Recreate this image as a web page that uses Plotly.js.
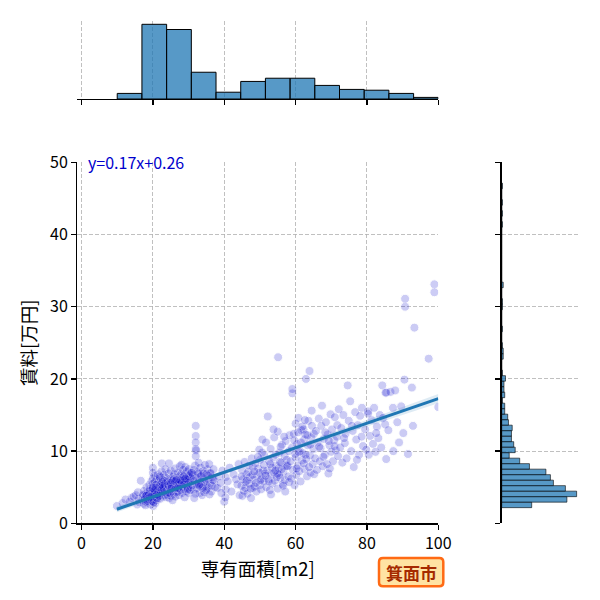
<!DOCTYPE html>
<html>
<head>
<meta charset="utf-8">
<script src="https://cdn.plot.ly/plotly-3.0.1.min.js"></script>
<style>html,body{margin:0;padding:0;background:#fff;}#chart{width:600px;height:600px;}</style>
</head>
<body>
<div id="chart"></div>
<script>
// ---- scatter data: 専有面積[m2] (area) and 賃料[万円] (rent) ----
const area = [
  9.9,11.5,12.3,13.5,14.0,14.6,15.2,15.6,16.0,16.2,16.6,15.8,
  17.0,17.2,17.4,17.5,17.8,18.0,18.0,18.2,18.4,18.5,
  18.6,18.8,19.0,19.0,19.2,19.3,19.5,19.6,19.8,19.8,
  20.0,20.0,20.0,20.0,20.0,20.0,20.0,20.0,20.1,20.1,
  20.2,20.3,20.4,20.5,20.5,20.6,20.7,20.8,20.9,21.0,
  21.0,21.0,21.1,21.2,21.3,21.4,21.5,21.5,21.6,21.7,
  21.8,21.9,22.0,22.0,22.0,22.1,22.2,22.3,22.4,22.5,
  22.5,22.6,22.7,22.8,22.9,23.0,23.0,23.1,23.2,23.3,
  23.4,23.5,23.6,23.7,23.5,23.2,22.9,22.4,21.9,21.4,
  20.9,20.4,19.9,19.4,18.9,18.3,17.7,17.3,19.1,19.7,
  20.6,21.3,22.1,22.8,23.6,17.9,18.7,20.3,21.6,22.6,
  19.6,20.8,21.8,23.3,18.1,20.1,22.2,23.0,21.1,19.2,
  20.5,21.7,22.5,23.8,18.6,19.9,20.2,21.2,22.7,23.4,
  24.0,24.1,24.2,24.3,24.4,24.5,24.5,24.6,24.8,24.9,
  25.0,25.0,25.0,25.1,25.2,25.3,25.4,25.5,25.6,25.7,
  25.8,25.9,26.0,26.0,26.1,26.2,26.3,26.4,26.5,26.6,
  26.7,26.8,26.9,27.0,27.0,27.1,27.2,27.3,27.4,27.5,
  27.6,27.7,27.8,27.9,28.0,28.0,28.1,28.2,28.3,28.4,
  28.5,28.6,28.7,28.8,28.9,29.0,29.0,29.1,29.2,29.3,
  29.4,29.5,29.6,29.7,29.8,29.9,30.0,30.0,30.1,30.2,
  30.3,30.4,30.5,30.6,30.7,24.3,25.3,26.4,27.4,28.4,
  29.4,30.2,24.7,25.8,26.8,27.8,28.8,29.8,25.5,27.1,
  26.2,28.1,29.6,24.9,27.6,30.5,26.6,28.6,25.1,29.1,
  31.0,31.2,31.4,31.5,31.7,31.8,32.0,32.0,32.0,32.0,
  32.1,32.0,32.2,32.4,32.5,32.6,32.8,33.0,33.1,33.3,
  33.5,33.6,33.8,34.0,34.1,34.3,34.4,34.6,34.8,35.0,
  35.1,35.3,35.4,35.6,35.8,36.0,36.2,36.4,36.7,37.0,
  37.2,37.5,31.3,32.3,33.4,34.5,35.5,36.5,31.9,33.9,
  30.9,32.7,34.9,36.1,31.6,33.2,34.2,35.9,32.9,36.9,
  38.1,38.5,39.0,39.5,40.0,40.4,40.4,40.3,41.0,41.5,
  42.0,42.6,43.3,43.7,44.0,44.3,39.2,
  44.8,45.0,45.1,45.3,45.5,45.7,46.0,46.2,46.5,46.7,
  47.0,47.2,47.5,47.7,48.0,48.0,48.2,48.5,48.7,49.0,
  49.2,49.5,49.8,50.0,50.0,50.3,50.5,50.7,50.9,51.0,
  51.2,51.4,51.7,45.9,46.9,47.9,48.9,49.9,50.6,44.9,
  46.3,47.4,48.4,49.4,50.2,51.1,
  51.8,52.0,52.2,52.4,52.6,52.8,53.0,53.2,53.5,53.7,
  54.0,54.0,54.2,54.5,54.7,55.0,55.0,55.1,55.3,55.5,
  55.7,56.0,56.2,56.4,56.6,56.9,57.0,57.2,57.4,57.6,
  57.8,58.0,58.1,58.3,52.5,53.4,54.4,55.4,56.5,57.5,
  52.9,54.9,56.1,58.2,53.8,55.8,57.1,51.6,56.8,54.3,
  53.1,55.6,
  58.6,58.8,59.0,59.1,59.1,59.3,59.5,59.7,60.0,60.0,
  60.2,60.4,60.6,60.8,61.0,61.2,61.4,61.6,61.8,62.0,
  62.2,62.4,62.5,62.7,62.9,63.0,63.2,63.4,63.6,63.9,
  64.0,64.2,64.4,64.6,64.8,65.0,65.2,59.6,60.9,62.3,
  63.3,64.5,65.1,61.5,60.3,62.8,63.8,59.9,61.9,64.1,
  60.7,62.6,
  65.5,65.7,66.0,66.2,66.5,66.8,67.0,67.2,67.4,67.6,
  67.9,68.2,68.5,68.8,69.0,69.2,69.5,69.8,70.0,70.2,
  70.5,70.8,71.0,71.3,71.6,71.9,72.1,66.6,68.3,69.6,
  70.9,71.7,67.8,69.3,
  72.5,72.8,73.1,73.4,73.8,74.0,74.3,74.6,74.9,75.3,
  75.6,76.0,76.3,76.7,77.0,77.4,77.8,78.1,78.5,78.9,
  73.6,75.8,77.2,78.6,
  79.5,79.8,80.3,80.5,80.9,81.3,81.7,82.0,82.4,82.8,
  83.2,83.6,84.0,84.3,84.5,85.1,85.2,85.4,85.4,86.0,
  80.3,82.6,
  86.6,87.3,87.4,87.9,88.5,89.0,89.6,90.2,90.5,90.7,
  90.7,91.5,92.6,92.9,
  93.3,97.3,98.9,98.9,100.0
];
const rent = [
  2.4,2.8,3.3,3.0,3.5,3.7,3.9,2.6,3.4,2.9,5.9,4.3,
  3.2,3.8,2.7,4.5,3.5,3.0,4.1,5.0,3.6,2.9,
  4.4,3.9,5.3,3.3,4.8,2.6,4.0,5.8,3.5,4.6,
  7.7,7.0,6.2,5.5,4.8,4.2,3.6,3.0,2.4,5.1,
  3.9,4.5,6.6,3.3,5.7,4.1,2.8,5.0,3.6,6.1,
  4.4,3.2,5.4,4.8,3.8,6.8,4.2,5.1,3.5,5.9,
  4.6,3.9,5.3,6.3,4.1,3.4,5.8,4.7,7.2,8.3,
  5.0,4.3,3.7,6.0,5.5,4.4,6.7,3.9,5.2,4.8,
  6.4,4.1,5.6,3.6,7.5,5.9,4.9,5.5,6.5,4.6,
  5.3,4.0,4.3,3.8,4.1,3.9,3.3,4.0,4.5,3.1,
  4.3,4.0,4.5,4.5,5.1,2.5,3.4,3.7,4.3,5.7,
  3.7,4.9,5.0,5.4,3.8,4.0,4.2,5.0,4.0,3.6,
  4.6,3.8,4.7,5.9,3.1,4.9,2.9,3.5,5.2,4.3,
  4.6,3.9,5.8,4.3,6.9,8.3,5.1,3.5,4.8,6.2,
  5.4,4.5,7.3,3.8,6.0,4.9,5.7,3.2,4.4,6.5,
  5.0,4.1,6.8,5.5,4.7,7.6,3.7,5.9,5.2,4.3,
  6.3,4.9,5.6,7.0,4.4,5.3,6.1,3.9,4.8,7.9,
  5.6,6.6,4.6,5.2,6.9,8.1,5.8,4.2,6.3,5.0,
  7.4,5.5,4.7,6.1,3.6,5.3,6.8,7.8,5.9,4.4,
  6.4,5.1,7.2,4.9,6.0,5.6,4.2,6.6,7.5,5.3,
  6.2,4.6,5.8,7.0,5.0,5.3,5.1,4.9,5.6,6.0,
  5.7,6.5,4.2,6.1,5.3,5.9,5.4,4.7,5.9,4.9,
  5.8,5.6,6.1,5.6,6.0,6.8,6.0,6.5,4.8,6.2,
  5.3,6.7,4.6,7.4,5.9,8.0,13.5,12.1,11.2,10.3,
  10.1,9.3,6.3,4.9,7.1,5.6,8.4,6.0,4.2,7.7,
  5.4,6.6,3.9,7.2,5.1,6.2,4.3,8.1,5.7,6.8,
  4.8,7.5,5.0,6.1,8.2,5.5,7.0,4.4,6.4,7.5,
  5.9,5.0,6.1,5.4,6.5,5.7,6.6,5.2,4.1,4.9,
  7.0,6.9,4.6,6.9,3.5,5.1,6.9,4.0,5.3,6.0,
  4.9,6.5,5.6,7.3,3.0,6.4,4.7,3.6,5.8,7.7,
  4.4,6.8,6.1,5.4,8.2,3.9,4.2,
  5.2,7.4,3.8,6.1,4.5,8.5,5.7,6.8,4.1,7.1,
  5.5,6.4,3.5,9.0,4.9,7.8,6.0,5.1,8.3,4.4,
  6.6,7.6,10.2,5.3,8.8,4.7,6.2,11.6,7.3,5.8,
  9.4,6.9,11.2,4.9,8.0,6.7,5.6,7.0,9.8,6.5,
  5.9,4.8,7.2,9.2,6.0,8.1,
  5.0,7.3,14.8,6.1,8.6,4.6,10.3,6.8,5.5,9.1,
  11.9,7.0,5.9,8.0,6.4,12.7,4.8,23.0,7.6,9.8,
  6.3,8.4,10.9,5.4,7.1,9.3,6.0,11.4,7.9,8.0,
  7.9,6.5,10.0,12.2,5.8,7.7,9.5,6.7,5.2,8.8,
  8.2,6.9,7.5,5.7,13.0,10.6,4.4,6.6,12.0,7.3,
  4.0,8.5,
  8.6,6.2,10.5,18.0,18.6,7.4,12.4,5.3,9.1,13.8,
  6.7,11.0,8.0,14.6,7.2,10.0,5.8,12.9,8.7,9.7,
  13.0,11.6,7.5,12.3,20.0,8.9,6.5,10.8,14.2,21.1,
  9.4,7.0,11.9,13.5,8.2,10.3,6.8,11.5,9.9,8.3,
  12.2,15.6,12.4,11.2,7.6,9.5,7.8,9.6,13.4,10.9,
  12.6,14.3,
  9.0,12.8,7.4,11.2,14.5,8.6,10.4,13.5,16.3,7.9,
  11.7,9.5,14.0,8.2,12.3,6.9,10.8,15.1,9.9,13.0,
  8.6,11.5,14.7,10.1,12.0,9.3,15.8,10.6,12.6,7.6,
  10.7,13.6,9.2,11.4,
  10.5,13.2,8.4,15.0,11.1,12.4,9.0,19.1,14.2,16.9,
  10.0,12.8,7.8,15.4,11.6,13.6,9.5,14.9,12.0,10.7,
  11.8,13.5,8.8,16.0,
  13.0,10.2,15.5,9.5,12.1,14.3,11.0,16.0,9.9,13.4,
  11.8,15.0,10.5,19.1,14.6,13.7,18.1,18.1,8.9,12.9,
  15.2,12.5,
  18.2,16.0,10.0,18.4,14.0,11.2,16.2,12.5,19.9,30.0,
  31.1,9.6,18.8,13.5,
  27.1,22.8,33.1,32.0,16.1
];

// ---- marginal histogram of area (top) ----
const areaBinStart = 10.0;
const areaBinWidth = 6.923;
const areaCounts = [14,187,174,67,17,44,52,52,34,24,22,14,4];

// ---- marginal histogram of rent (right) ----
const rentBinStart = 2.17;
const rentBinWidth = 0.7617;
const rentCounts = [40,87,100,85,69,65,59,37,24,10,18,16,13,13,14,9,8,4,4,1,4,3,3,5,1,
  0,0,2,2,1,0,0,1,0,0,0,1,1,0,0,2,0,0,0,0,0,0,0,0,0,0,1,0,1,0,1,0,0,1];

// ---- regression ----
const SLOPE = 0.17;
const INTERCEPT = 0.26;

// ---- tick labels ----
const xTicks = [0,20,40,60,80,100];
const yTicks = [0,10,20,30,40,50];

const n = Math.min(area.length, rent.length);
const xs = area.slice(0,n), ys = rent.slice(0,n);
const xMean = xs.reduce((a,b)=>a+b,0)/n;
const sxx = xs.reduce((a,b)=>a+(b-xMean)*(b-xMean),0);
const sse = xs.reduce((a,x,i)=>{const r=ys[i]-(INTERCEPT+SLOPE*x);return a+r*r;},0);
const s = Math.sqrt(sse/(n-2));
const xMin = Math.min(...xs), xMax = Math.max(...xs);
const gx = [], gy = [], up = [], lo = [];
for (let i=0;i<=100;i++){
  const x = xMin + (xMax-xMin)*i/100;
  const y = INTERCEPT + SLOPE*x;
  const se = 1.96*s*Math.sqrt(1/n + (x-xMean)*(x-xMean)/sxx);
  gx.push(x); gy.push(y); up.push(y+se); lo.push(y-se);
}

const areaCenters = areaCounts.map((c,i)=>areaBinStart+areaBinWidth*(i+0.5));
const rentCenters = rentCounts.map((c,i)=>rentBinStart+rentBinWidth*(i+0.5));

const FONT = '"Noto Sans CJK JP", "Noto Sans", sans-serif';
const GRID = '#b0b0b0';
const DASH = '4px,2px';

const traces = [
  {type:'scatter', mode:'markers', x:xs, y:ys, xaxis:'x', yaxis:'y',
   marker:{size:9, color:'rgb(0,0,205)', opacity:0.2, line:{color:'white', width:1}},
   hoverinfo:'skip', showlegend:false},
  {type:'scatter', mode:'lines', x:gx, y:lo, line:{width:0, color:'rgba(0,0,0,0)'},
   xaxis:'x', yaxis:'y', showlegend:false, hoverinfo:'skip'},
  {type:'scatter', mode:'lines', x:gx, y:up, line:{width:0, color:'rgba(0,0,0,0)'},
   fill:'tonexty', fillcolor:'rgba(31,119,180,0.15)',
   xaxis:'x', yaxis:'y', showlegend:false, hoverinfo:'skip'},
  {type:'scatter', mode:'lines', x:gx, y:gy, line:{width:3, color:'#1f77b4'},
   xaxis:'x', yaxis:'y', showlegend:false},
  {type:'bar', x:areaCenters, y:areaCounts, width:areaBinWidth, xaxis:'x2', yaxis:'y2',
   marker:{color:'rgba(31,119,180,0.75)', line:{color:'#000', width:1}}, showlegend:false},
  {type:'bar', orientation:'h', y:rentCenters, x:rentCounts, width:rentBinWidth, xaxis:'x3', yaxis:'y3',
   marker:{color:'rgba(31,119,180,0.75)', line:{color:'rgba(0,0,0,0.75)', width:0.8}}, showlegend:false}
];

const xDom = [0.1288, 0.7305];
const yDom = [0.1278, 0.7295];
const xRange = [-1.2, 100];
const yRange = [0, 50];

const axisCommon = {
  showline:true, linecolor:'#000', linewidth:1.25, ticks:'outside', ticklen:5, tickwidth:1.25,
  tickcolor:'#000', showgrid:true, gridcolor:GRID, gridwidth:0.8, griddash:DASH, zeroline:false,
  tickfont:{family:FONT, size:16, color:'#000'}
};

const layout = {
  width:600, height:600, margin:{l:0,r:0,t:0,b:0},
  paper_bgcolor:'#fff', plot_bgcolor:'rgba(0,0,0,0)',
  font:{family:FONT, color:'#000'},
  bargap:0,
  xaxis: Object.assign({}, axisCommon, {domain:xDom, range:xRange, anchor:'y', tickvals:xTicks,
     ticktext:xTicks.map(String),
     title:{text:'専有面積[m2]', font:{family:FONT, size:18.5, color:'#000'}, standoff:10}}),
  yaxis: Object.assign({}, axisCommon, {domain:yDom, range:yRange, anchor:'x', tickvals:yTicks,
     ticktext:yTicks.map(String),
     title:{text:'賃料[万円]', font:{family:FONT, size:18.5, color:'#000'}, standoff:8}}),
  xaxis2: Object.assign({}, axisCommon, {domain:xDom, range:xRange, anchor:'y2', tickvals:xTicks,
     showticklabels:false}),
  yaxis2: {domain:[0.835, 0.9657], range:[0, 196.35], anchor:'x2', showgrid:false, showline:false,
     showticklabels:false, ticks:'', zeroline:false},
  xaxis3: {domain:[0.8362, 0.9673], range:[0, 105], anchor:'y3', showgrid:false, showline:false,
     showticklabels:false, ticks:'', zeroline:false},
  yaxis3: Object.assign({}, axisCommon, {domain:yDom, range:yRange, anchor:'x3', tickvals:yTicks,
     showticklabels:false}),
  annotations:[
    {xref:'paper', yref:'y', x:xDom[0]+0.015, y:50, xanchor:'left', yanchor:'middle',
     text:`y=${SLOPE}x+${INTERCEPT}`, showarrow:false,
     font:{family:FONT, size:16, color:'#0000cd'}},
    {xref:'paper', yref:'paper', x:0.6853, y:0.0465, xanchor:'center', yanchor:'middle',
     text:'<b>箕面市</b>', showarrow:false,
     font:{family:FONT, size:17, color:'#a52a00'}}
  ],
  shapes:[
    {type:'path', xref:'paper', yref:'paper', layer:'below',
     path:(()=>{const x0=379/600,x1=443.3/600,y0=(600-586.3)/600,y1=(600-558)/600,r=4/600;
       return `M${x0+r},${y0} L${x1-r},${y0} Q${x1},${y0} ${x1},${y0+r} L${x1},${y1-r} Q${x1},${y1} ${x1-r},${y1} L${x0+r},${y1} Q${x0},${y1} ${x0},${y1-r} L${x0},${y0+r} Q${x0},${y0} ${x0+r},${y0} Z`;})(),
     fillcolor:'#ffe3a3', line:{color:'#ff6a14', width:2.5}}
  ]
};

Plotly.newPlot('chart', traces, layout, {staticPlot:true, displayModeBar:false});
</script>
</body>
</html>
